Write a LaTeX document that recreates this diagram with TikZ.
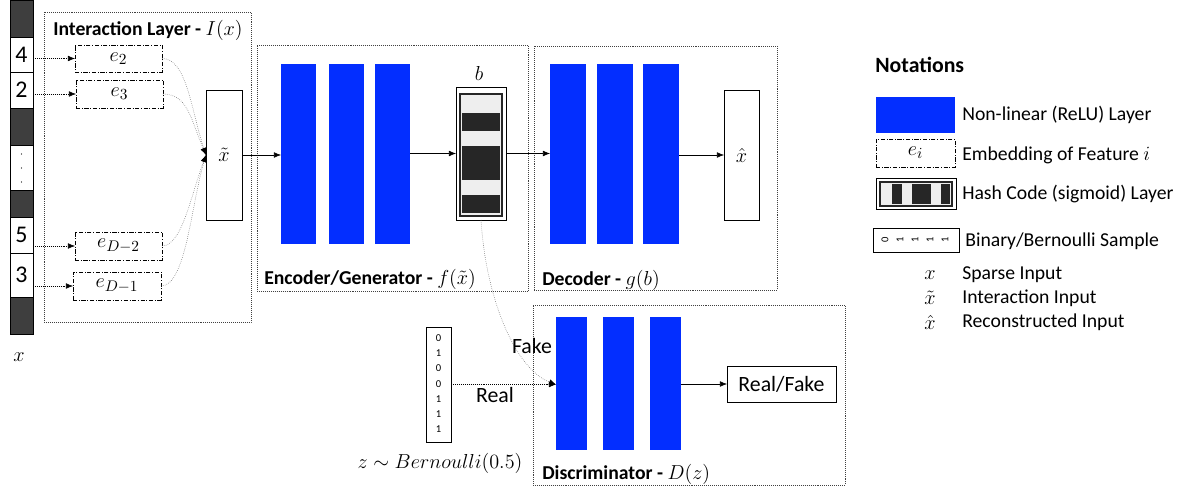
\documentclass[tikz,border=0pt]{standalone}
\usepackage{fontspec}
\setmainfont{Carlito}
\usetikzlibrary{arrows.meta}
\definecolor{relublue}{RGB}{3,46,255}
\definecolor{cellgray}{RGB}{62,62,62}
\definecolor{codedark}{RGB}{38,38,38}
\definecolor{codelight}{RGB}{238,238,238}
\tikzset{
  blk/.style 2 args={minimum width=(#1)*0.025cm, minimum height=(#2)*0.025cm, inner sep=0pt, outer sep=0pt, anchor=north west},
  relu/.style={fill=relublue},
  emb/.style={draw, thin, dash pattern=on 3pt off 1.2pt on 0.6pt off 1.2pt},
  frame/.style={draw=black!75, densely dotted, thin},
  tip/.style={-{Latex[length=5pt,width=4pt]}},
  gtip/.style={densely dotted, black!60, -{Latex[length=5pt,width=4pt,black]}},
  title/.style={font=\fontsize{14}{17}\selectfont\bfseries, anchor=west, inner sep=0pt},
  big/.style={font=\fontsize{15}{18}\selectfont},
  lgd/.style={anchor=west, inner sep=0pt},
}
\begin{document}
\begin{tikzpicture}[x=0.025cm, y=-0.025cm, font=\fontsize{14}{17}\selectfont]
\useasboundingbox (0,0) rectangle (1187,491);

% sparse input column
\foreach \ya/\yb/\cl/\lab [count=\i] in {0/37/cellgray/, 37/72/white/4, 72/108/white/2,
    108/145/cellgray/, 145/190/white/, 190/217/cellgray/, 217/253/white/5,
    253/297/white/3, 297/334/cellgray/}
  \node[blk={23}{\yb-\ya}, draw, fill=\cl, font=\fontsize{17}{19}\selectfont] (s\i) at (10,\ya) {\lab};
\foreach \yy in {154,168,182} \fill (21.5,\yy) circle (0.5pt);
\node[big] (xlab) at (19,357) {$x$};

% interaction layer
\node[frame, blk={207}{310}] (inter) at (44,12) {};
\node[title] at (53,30) {Interaction Layer - $I(x)$};
\node[emb, blk={87}{27}, big] (e2) at (75,45) {$e_2$};
\node[emb, blk={87}{28}, big] (e3) at (76,80) {$e_3$};
\node[emb, blk={87}{28}, big] (eD2) at (75,232) {$e_{D-2}$};
\node[emb, blk={88}{28}, big] (eD1) at (73,272) {$e_{D-1}$};
\node[draw, blk={36}{130}, big] (xt) at (206,90) {$\tilde{x}$};
\draw[densely dotted, tip] (s2.east |- e2) -- (e2.west);
\draw[densely dotted, tip] (s3.east |- e3) -- (e3.west);
\draw[densely dotted, tip] (s7.east |- eD2) -- (eD2.west);
\draw[densely dotted, tip] (s8.east |- eD1) -- (eD1.west);
\draw[gtip] (e2.east) .. controls +(25,0) and +(-15,-45) .. (xt.west);
\draw[gtip] (e3.east) .. controls +(25,0) and +(-15,-35) .. (xt.west);
\draw[gtip] (eD2.east) .. controls +(20,0) and +(-15,40) .. (xt.west);
\draw[gtip] (eD1.east) .. controls +(25,0) and +(-15,50) .. (xt.west);

% encoder
\node[frame, blk={271}{246}] (enc) at (257,45) {};
\foreach \xx [count=\i] in {281,329,375}
  \node[relu, blk={35}{180}] (f\i) at (\xx,64) {};
\node[draw, blk={50}{133}] (b) at (456,87) {};
\fill[codelight] (460,94) rectangle (502,216);
\foreach \ya/\yb in {113/131, 146/180, 195/213}
  \fill[codedark] (462,\ya) rectangle (500,\yb);
\draw[codedark, line width=1pt] (460,94) rectangle (502,216);
\node[big] (blab) at (479,73) {$b$};
\node[title] at (264,279) {Encoder/Generator - $f(\tilde{x})$};
\draw[tip] (xt.east) -- (xt.east -| f1.west);
\draw[tip] (f3.east |- b) -- (b.west);

% decoder
\node[frame, blk={243}{244}] (dec) at (534,46) {};
\foreach \xx [count=\i] in {550,597,643}
  \node[relu, blk={36}{180}] (g\i) at (\xx,64) {};
\node[draw, blk={35}{130}, big] (xh) at (724,90) {$\hat{x}$};
\node[title] at (542,280) {Decoder - $g(b)$};
\draw[tip] (b.east) -- (b.east -| g1.west);
\draw[tip] (g3.east |- xh) -- (xh.west);

% discriminator
\node[frame, blk={312}{180}] (disc) at (533,305) {};
\foreach \xx [count=\i] in {556,603,650}
  \node[relu, blk={31}{133}] (d\i) at (\xx,317) {};
\node[draw, blk={109}{36}, font=\fontsize{15.5}{18}\selectfont] (rf) at (727,366) {Real/Fake};
\node[title] at (542,474) {Discriminator - $D(z)$};
\draw[tip] (d3.east |- rf) -- (rf.west);

% bernoulli sample
\node[draw, blk={25}{115}] (zs) at (426,327) {};
\foreach \dd [count=\i] in {0,1,0,0,1,1,1}
  \node[font=\fontsize{7.5}{8}\selectfont, inner sep=0pt] at (438.5,323+15.2*\i) {\dd};
\node[big] (zlab) at (440,463) {$z\sim Bernoulli(0.5)$};
\coordinate (din) at (zs.east -| d1.west);
\draw[densely dotted, tip] (zs.east) -- (din);
\draw[gtip] (b.south) .. controls +(5,80) and +(-40,-15) .. (din);
\node[font=\fontsize{15.5}{18}\selectfont] (real) at (495,395) {Real};
\node[font=\fontsize{15.5}{18}\selectfont] (fake) at (532,346) {Fake};

% notations
\node[title, font=\fontsize{15.5}{18}\selectfont\bfseries] at (875,65) {Notations};
\node[relu, blk={79}{36}] (nrelu) at (876,97) {};
\node[lgd] at (962,115) {Non-linear (ReLU) Layer};
\node[emb, blk={79}{28}, big] (nemb) at (876,139) {$e_i$};
\node[lgd] at (962,155) {Embedding of Feature $i$};
\node[draw, blk={80}{31}] (nhash) at (876,178) {};
\fill[codelight] (880,182) rectangle (952,206);
\foreach \xa/\xb in {892/902, 912/931, 941/950}
  \fill[codedark] (\xa,184) rectangle (\xb,204);
\draw[codedark, line width=1pt] (880,182) rectangle (952,206);
\node[lgd] at (962,194) {Hash Code (sigmoid) Layer};
\node[draw, blk={86}{24}] (nbin) at (873,228) {};
\foreach \dd [count=\i] in {0,1,1,1,1}
  \node[font=\fontsize{7.5}{8}\selectfont, inner sep=0pt, rotate=90] at (870+15*\i,240) {\dd};
\node[lgd] at (965,241) {Binary/Bernoulli Sample};
\node at (930,275) {$x$};
\node at (930,298) {$\tilde{x}$};
\node at (930,322) {$\hat{x}$};
\node[lgd] at (962,275) {Sparse Input};
\node[lgd] at (962,298) {Interaction Input};
\node[lgd] at (962,322) {Reconstructed Input};
\end{tikzpicture}
\end{document}
